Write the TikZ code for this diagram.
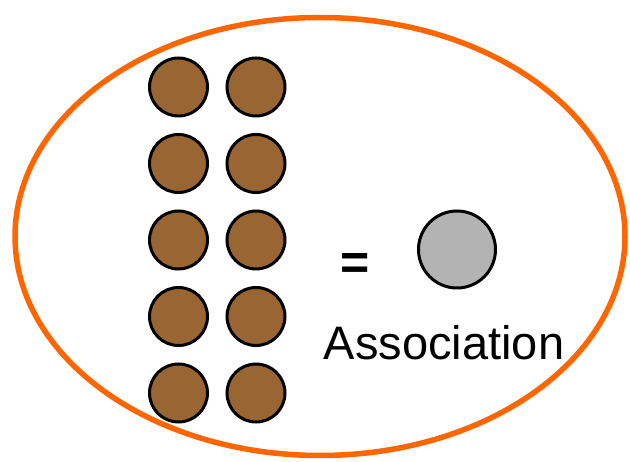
\documentclass[tikz,border=0pt]{standalone}
\usepackage{fontspec}
\setmainfont{Liberation Sans}
\definecolor{ringorange}{HTML}{FF6600}
\definecolor{beadbrown}{HTML}{996633}
\definecolor{assocgray}{HTML}{B3B3B3}
\begin{document}
\begin{tikzpicture}[x=1pt,y=-1pt,
  bead/.style={circle,draw=black,line width=3pt,fill=beadbrown,minimum size=58pt,inner sep=0pt},
  assoc/.style={circle,draw=black,line width=3pt,fill=assocgray,minimum size=77pt,inner sep=0pt},
  ring/.style={draw=ringorange,line width=5.5pt}]
\useasboundingbox (0,0) rectangle (630,462);
\draw[ring] (320,236.5) ellipse [x radius=305, y radius=219];
\foreach \r/\yy in {1/87,2/163.5,3/240,4/316.5,5/393}{
  \node[bead] (l\r) at (178.5,\yy) {};
  \node[bead] (r\r) at (256,\yy) {};
}
\node[inner sep=0pt,font=\fontsize{50}{60}\selectfont\bfseries] (eq) at (355.5,266.5) {=};
\node[assoc] (ac) at (457,249.5) {};
\node[inner sep=0pt,anchor=base,font=\fontsize{47}{56}\selectfont] (lab) at (444,360) {Association};
\end{tikzpicture}
\end{document}
